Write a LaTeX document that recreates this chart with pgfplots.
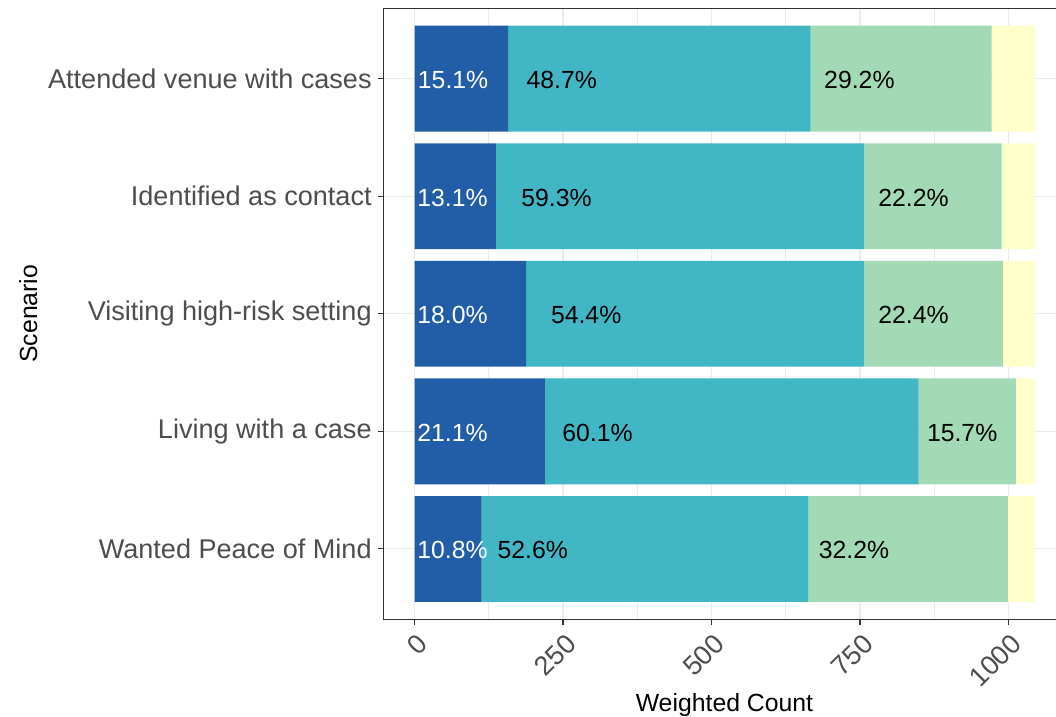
\documentclass[border=0pt]{standalone}
\usepackage{fontspec}
\setmainfont{Liberation Sans}
\usepackage{pgfplots}
\pgfplotsset{compat=1.18}
\definecolor{cA}{HTML}{225EA8}
\definecolor{cB}{HTML}{41B6C4}
\definecolor{cC}{HTML}{A1DAB4}
\definecolor{cD}{HTML}{FFFFCC}
\definecolor{gridc}{HTML}{EBEBEB}
\definecolor{tickc}{HTML}{333333}
\definecolor{labc}{HTML}{4D4D4D}
\tikzset{blab/.style={font=\fontsize{18.6}{22}\selectfont, inner sep=0pt, anchor=center, yshift=-1pt}}
\begin{document}
\begin{tikzpicture}
\path[use as bounding box] (0,0) rectangle (792pt,537.75pt);
\begin{axis}[
  at={(287.625pt,73.125pt)}, anchor=south west,
  scale only axis, width=504.375pt, height=458.6pt,
  xbar stacked, bar width=0.9,
  xmin=-52.2, xmax=1080, ymin=0.4, ymax=5.6,
  xtick={0,250,500,750,1000},
  xticklabels={0,250,500,750,1000},
  minor x tick num=1,
  ytick={1,2,3,4,5},
  yticklabels={Wanted Peace of Mind,Living with a case,Visiting high-risk setting,Identified as contact,Attended venue with cases},
  axis line style={draw=none},
  tick align=outside, major tick length=4.5pt, minor tick length=0pt,
  tick style={color=tickc, line width=0.8pt},
  xtick pos=bottom, ytick pos=left,
  grid=both,
  major grid style={color=gridc, line width=0.8pt},
  minor grid style={color=gridc, line width=0.4pt},
  yticklabel style={font=\fontsize{20.3}{24}\selectfont, text=labc, anchor=east, inner sep=0pt, xshift=-4.2pt},
  xticklabel style={font=\fontsize{20.3}{24}\selectfont, text=labc, xshift=1pt, yshift=-5pt, rotate=45, anchor=north east, inner sep=0pt},
  xlabel={Weighted Count}, ylabel={Scenario},
  xlabel style={font=\fontsize{18.6}{22}\selectfont, at={(axis description cs:0.507,0)}, anchor=base, yshift=-69pt},
  ylabel style={font=\fontsize{18.6}{22}\selectfont, at={(axis description cs:-0.515,0.5)}, anchor=base},
  clip=false,
]
\addplot[fill=cA, draw=none] coordinates {(112.9,1) (220.5,2) (188.1,3) (136.9,4) (157.8,5)};
\addplot[fill=cB, draw=none] coordinates {(549.7,1) (628.0,2) (568.5,3) (619.7,4) (508.9,5)};
\addplot[fill=cC, draw=none] coordinates {(336.5,1) (164.1,2) (234.1,3) (232.0,4) (305.1,5)};
\addplot[fill=cD, draw=none] coordinates {(46.0,1) (32.4,2) (54.3,3) (56.4,4) (73.2,5)};
\draw[tickc, line width=0.7pt] (rel axis cs:1,1) -- (rel axis cs:0,1) -- (rel axis cs:0,0) -- (rel axis cs:1,0);
\coordinate (a1) at (axis cs:65,5);
\coordinate (a2) at (axis cs:248,5);
\coordinate (a3) at (axis cs:749,5);
\coordinate (b1) at (axis cs:64,4);
\coordinate (b2) at (axis cs:239,4);
\coordinate (b3) at (axis cs:840,4);
\coordinate (c1) at (axis cs:64,3);
\coordinate (c2) at (axis cs:289,3);
\coordinate (c3) at (axis cs:840,3);
\coordinate (d1) at (axis cs:64,2);
\coordinate (d2) at (axis cs:308,2);
\coordinate (d3) at (axis cs:922,2);
\coordinate (e1) at (axis cs:64,1);
\coordinate (e2) at (axis cs:199,1);
\coordinate (e3) at (axis cs:740,1);
\end{axis}
\node[blab, text=white] at (a1) {15.1\%};
\node[blab] at (a2) {48.7\%};
\node[blab] at (a3) {29.2\%};
\node[blab, text=white] at (b1) {13.1\%};
\node[blab] at (b2) {59.3\%};
\node[blab] at (b3) {22.2\%};
\node[blab, text=white] at (c1) {18.0\%};
\node[blab] at (c2) {54.4\%};
\node[blab] at (c3) {22.4\%};
\node[blab, text=white] at (d1) {21.1\%};
\node[blab] at (d2) {60.1\%};
\node[blab] at (d3) {15.7\%};
\node[blab, text=white] at (e1) {10.8\%};
\node[blab] at (e2) {52.6\%};
\node[blab] at (e3) {32.2\%};
\end{tikzpicture}
\end{document}
